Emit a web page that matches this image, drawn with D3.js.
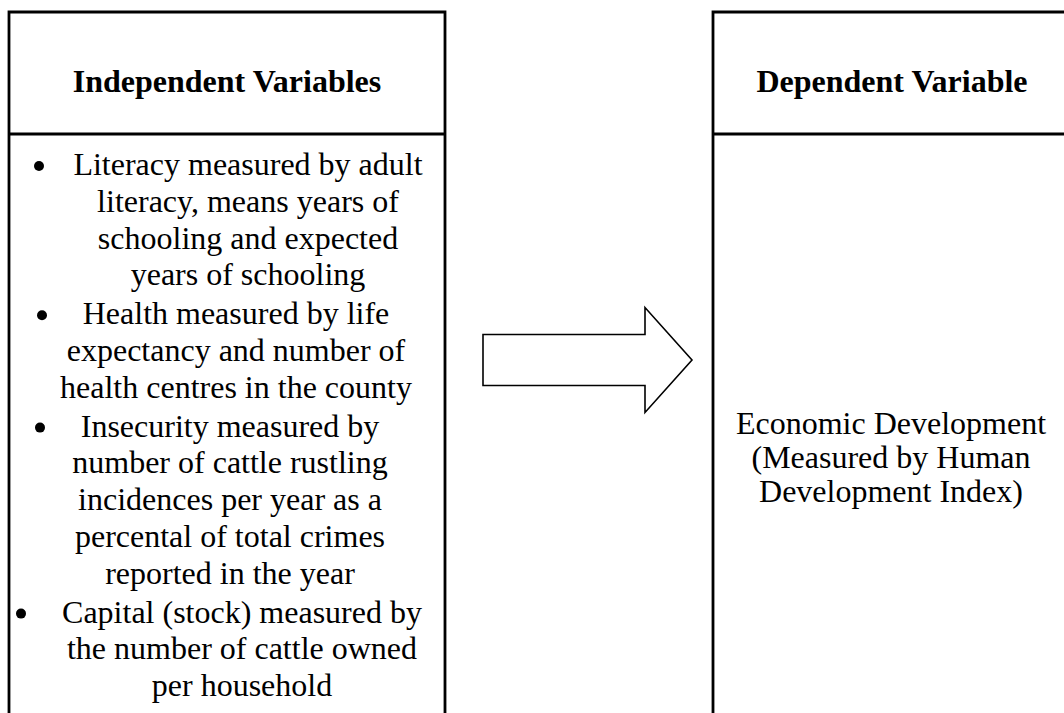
<!DOCTYPE html>
<html>
<head>
<meta charset="utf-8">
<script src="https://cdnjs.cloudflare.com/ajax/libs/d3/7.8.5/d3.min.js"></script>
<style>
	body { margin: 0; background: #fff; }
	svg { display: block; }
	text { font-family: "Liberation Serif", "Times New Roman", serif; fill: #000; }
</style>
</head>
<body>
<script>
// box titles
var headers = ["Independent Variables", "Dependent Variable"];

// bullet points, one list of lines per bullet
var bullets = [
	["Literacy measured by adult", "literacy, means years of", "schooling and expected", "years of schooling"],
	["Health measured by life", "expectancy and number of", "health centres in the county"],
	["Insecurity measured by", "number of cattle rustling", "incidences per year as a", "percental of total crimes", "reported in the year"],
	["Capital (stock) measured by", "the number of cattle owned", "per household"]
];

// text inside the dependent variable box
var outcome = ["Economic Development", "(Measured by Human", "Development Index)"];


// some dimensions for the svg
var svgDims = {
	'width': 1064,
	'height': 713
};

// layout of the two boxes (they run off the bottom / right of the page)
var boxes = [
	{x0: 9, x1: 445, titleX: 227},
	{x0: 713, x1: 1090, titleX: 892}
];
var boxTop = 12,
	headBottom = 134,
	titleY = 92,
	fontSize = 32;

// bullets: dot position and centre of each text block
var bulletX = [39, 42, 40, 21],
	blockX = [248, 236, 230, 242];
var firstBaseline = 175,
	lineGap = 36.8,
	groupGap = 2;

// arrow between the boxes
var arrow = {x0: 483, x1: 692, headX: 645, cy: 360, shaft: 51, head: 105};

// outcome text
var outcomeX = 891,
	outcomeY = 434,
	outcomeGap = 34;


var svg = d3.select("body").append("svg")
	.attr("width", svgDims.width)
	.attr("height", svgDims.height);

// flatten the bullet lines so each knows its row and group
var rows = [];
bullets.forEach(function(lines, g) {
	lines.forEach(function(line, j) {
		rows.push({text: line, group: g, first: j == 0});
	});
});

var yRow = d3.scaleLinear()
	.domain([0, rows.length - 1])
	.range([firstBaseline, firstBaseline + (rows.length - 1) * lineGap]);

rows.forEach(function(d, i) {
	d.y = yRow(i) + d.group * groupGap;
});

// boxes: open at the bottom edge, so draw the lines one by one
boxes.forEach(function(b) {
	var g = svg.append("g")
		.attr("fill", "none")
		.attr("stroke", "#000")
		.attr("stroke-width", 2.8);
	g.append("path")
		.attr("d", d3.line()([[b.x0, svgDims.height + 10], [b.x0, boxTop], [b.x1, boxTop], [b.x1, svgDims.height + 10]]));
	g.append("line")
		.attr("x1", b.x0).attr("x2", b.x1)
		.attr("y1", headBottom).attr("y2", headBottom);
});

// titles
svg.selectAll("text.title")
	.data(headers)
	.enter().append("text")
	.attr("class", "title")
	.attr("x", function(d, i) { return boxes[i].titleX; })
	.attr("y", titleY)
	.attr("text-anchor", "middle")
	.attr("font-weight", "bold")
	.attr("font-size", fontSize)
	.text(function(d) { return d; });

// bullet text
svg.selectAll("text.item")
	.data(rows)
	.enter().append("text")
	.attr("class", "item")
	.attr("x", function(d) { return blockX[d.group]; })
	.attr("y", function(d) { return d.y; })
	.attr("text-anchor", "middle")
	.attr("font-size", fontSize)
	.text(function(d) { return d.text; });

// bullet dots
svg.selectAll("circle.dot")
	.data(rows.filter(function(d) { return d.first; }))
	.enter().append("circle")
	.attr("class", "dot")
	.attr("cx", function(d) { return bulletX[d.group]; })
	.attr("cy", function(d) { return d.y - 9; })
	.attr("r", 5)
	.attr("fill", "#000");

// the arrow
var s = arrow.shaft / 2,
	h = arrow.head / 2;
svg.append("path")
	.attr("d", d3.line()([
		[arrow.x0, arrow.cy - s],
		[arrow.headX, arrow.cy - s],
		[arrow.headX, arrow.cy - h],
		[arrow.x1, arrow.cy],
		[arrow.headX, arrow.cy + h],
		[arrow.headX, arrow.cy + s],
		[arrow.x0, arrow.cy + s]
	]) + "Z")
	.attr("fill", "#fff")
	.attr("stroke", "#000")
	.attr("stroke-width", 1.6);

// outcome text
svg.selectAll("text.outcome")
	.data(outcome)
	.enter().append("text")
	.attr("class", "outcome")
	.attr("x", outcomeX)
	.attr("y", function(d, i) { return outcomeY + i * outcomeGap; })
	.attr("text-anchor", "middle")
	.attr("font-size", fontSize)
	.text(function(d) { return d; });
</script>
</body>
</html>
